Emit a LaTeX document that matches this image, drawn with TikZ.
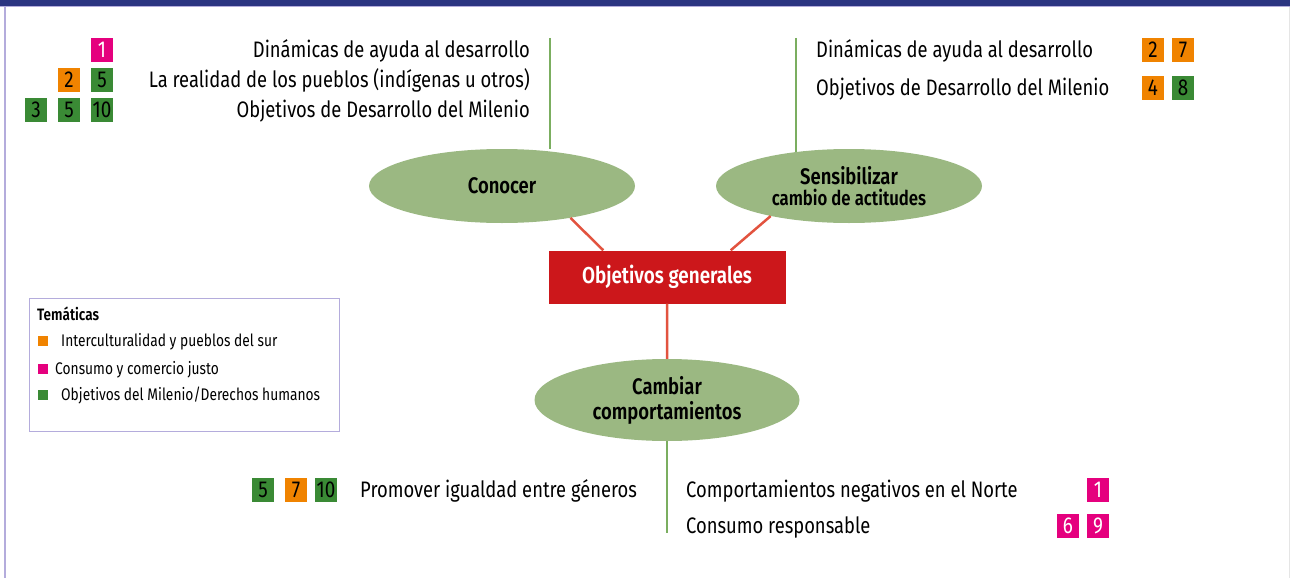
\documentclass[tikz,border=0pt]{standalone}
\usepackage{fontspec}
\setmainfont{Fira Sans}[FakeStretch=0.82, BoldFont={Fira Sans SemiBold}]
\usetikzlibrary{shapes.geometric}

\definecolor{azul}{HTML}{2B3581}
\definecolor{lila}{HTML}{B4ACDC}
\definecolor{naranja}{HTML}{F08300}
\definecolor{rosa}{HTML}{E5007E}
\definecolor{verdeosc}{HTML}{3A8A35}
\definecolor{verdeel}{HTML}{9BB882}
\definecolor{verdelin}{HTML}{7BAE60}
\definecolor{rojo}{HTML}{CC171B}
\definecolor{rojolin}{HTML}{E2533F}

\tikzset{
  caja/.style={minimum width=22pt, minimum height=24pt, inner sep=0pt,
               font=\fontsize{23}{23}\selectfont},
  cn/.style={caja, fill=naranja},
  cr/.style={caja, fill=rosa, text=white},
  cv/.style={caja, fill=verdeosc},
  txt/.style={inner sep=0pt, text height=15pt, text depth=0pt,
              font=\fontsize{22.4}{22}\selectfont},
  elip/.style={ellipse, fill=verdeel, inner sep=0pt, align=center,
               font=\bfseries\fontsize{22.5}{25}\selectfont},
  ltxt/.style={inner sep=0pt, anchor=west, text height=10pt, text depth=0pt,
               font=\fontsize{16.8}{16}\selectfont},
  cuad/.style={minimum size=10pt, inner sep=0pt},
  lverde/.style={verdelin, line width=2.5pt},
  lrojo/.style={rojolin, line width=2.5pt}
}

\begin{document}
\begin{tikzpicture}[x=1pt, y=-1pt]
  \useasboundingbox (0,0) rectangle (1290,578);
  % marco
  \fill [azul] (0,0) rectangle (1290,6);
  \draw [lila, line width=1pt] (0,6.5) -- (1290,6.5);
  \draw [lila, line width=2pt] (5,7) -- (5,578);
  \draw [black!10, line width=1pt] (1289,7) -- (1289,578);

  % objetivos
  \draw (502,186) node [elip, minimum width=266pt, minimum height=74pt] (con) {Conocer}
        (849,186) node [elip, minimum width=266pt, minimum height=74pt] (sen)
              {Sensibilizar\\[-4pt] {\fontsize{20.4}{20}\selectfont cambio de actitudes}}
        (667,277) node [fill=rojo, text=white, minimum width=237pt, minimum height=53pt,
                        inner sep=0pt, font=\bfseries\fontsize{23}{23}\selectfont] (gen)
              {Objetivos generales}
        (667,400) node [elip, minimum width=265pt, minimum height=82pt] (cam)
              {Cambiar\\ comportamientos};

  \coordinate (tl) at (550,38);
  \coordinate (tr) at (796,38);
  \coordinate (bt) at (667,533);

  \draw [lverde] (tl) -- (tl |- con.56)
                 (tr) -- (tr |- sen.147)
                 (cam.south) -- (bt);
  \draw [lrojo] (con.-25.5) -- ([xshift=55pt]gen.north west)
                (sen.201) -- ([xshift=-55pt]gen.north east)
                (gen) -- (cam);

  % conocer
  \draw (530,50)  node [txt, anchor=east] (c1) {Dinámicas de ayuda al desarrollo}
        (530,80)  node [txt, anchor=east] (c2) {La realidad de los pueblos (indígenas u otros)}
        (530,110) node [txt, anchor=east] (c3) {Objetivos de Desarrollo del Milenio}
        (102,50)  node [cr] (c1a) {1}
        (69,80)   node [cn] (c2a) {2}
        (102,80)  node [cv] (c2b) {5}
        (36,110)  node [cv] (c3a) {3}
        (69,110)  node [cv] (c3b) {5}
        (102,110) node [cv] (c3c) {10};

  % sensibilizar
  \draw (816,50)  node [txt, anchor=west] (s1) {Dinámicas de ayuda al desarrollo}
        (816,88)  node [txt, anchor=west] (s2) {Objetivos de Desarrollo del Milenio}
        (1153,50) node [cn] (s1a) {2}
        (1183,50) node [cn] (s1b) {7}
        (1153,88) node [cn] (s2a) {4}
        (1183,88) node [cv] (s2b) {8};

  % cambiar
  \draw (360,490)  node [txt, anchor=west] (b1) {Promover igualdad entre géneros}
        (686,490)  node [txt, anchor=west] (b2) {Comportamientos negativos en el Norte}
        (686,526)  node [txt, anchor=west] (b3) {Consumo responsable}
        (263,490)  node [cv] (b1a) {5}
        (296,490)  node [cn] (b1b) {7}
        (326,490)  node [cv] (b1c) {10}
        (1098,490) node [cr] (b2a) {1}
        (1068,526) node [cr] (b3a) {6}
        (1098,526) node [cr] (b3b) {9};

  % leyenda
  \node [draw=lila, line width=1pt, anchor=north west, minimum width=310pt,
         minimum height=133pt, inner sep=0pt] (ley) at (29,298) {};
  \draw (37,315) node [ltxt, font=\bfseries\fontsize{16.5}{16}\selectfont] (lt) {Temáticas}
        (43,341) node [cuad, fill=naranja] (q1) {}
        (43,369) node [cuad, fill=rosa] (q2) {}
        (43,395) node [cuad, fill=verdeosc] (q3) {}
        (61,341) node [ltxt] (l1) {Interculturalidad y pueblos del sur}
        (55,369) node [ltxt] (l2) {Consumo y comercio justo}
        (61,395) node [ltxt] (l3) {Objetivos del Milenio/Derechos humanos};
\end{tikzpicture}
\end{document}
